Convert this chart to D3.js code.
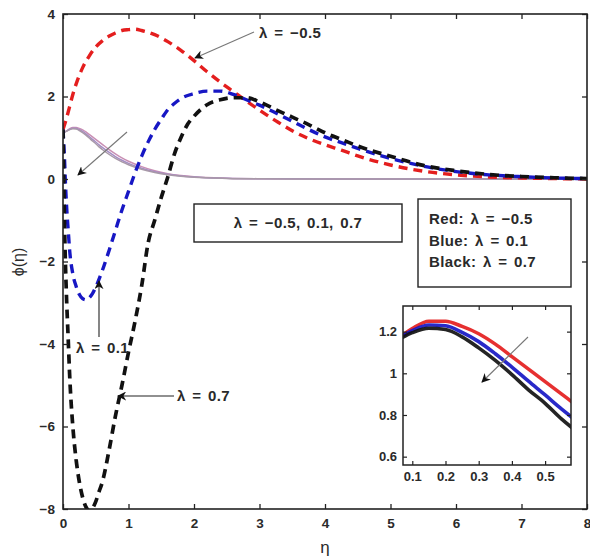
<!DOCTYPE html>
<html>
<head>
<meta charset="utf-8">
<script src="https://cdn.jsdelivr.net/npm/d3@7"></script>
<style>
  body { margin: 0; background: #fff; }
  svg { display: block; font-family: "Liberation Sans", Arial, sans-serif; }
</style>
</head>
<body>
<svg id="chart" width="590" height="560"></svg>
<script>
// Concentration profiles phi(eta) for three values of lambda.
// Dashed curves: first solution branch; solid curves: second branch.
const lambdaValues = [-0.5, 0.1, 0.7];
const seriesColors = ["#e41e1e", "#1717c4", "#111111"];
const solidColors = ["#c98fb4", "#a58cc4", "#a899a8"];

// Dashed branch
const etaRed = [0, 0.05, 0.1, 0.15, 0.2, 0.3, 0.4, 0.5, 0.6, 0.7, 0.8, 0.9, 1.0, 1.1, 1.2, 1.4, 1.6, 1.8, 2.0, 2.2, 2.4, 2.6, 2.8, 3.0, 3.25, 3.5, 3.75, 4.0, 4.25, 4.5, 5.0, 5.5, 6.0, 6.5, 7.0, 7.5, 8.0];
const phiRed = [1.2, 1.45, 1.75, 2.05, 2.3, 2.7, 2.98, 3.2, 3.35, 3.46, 3.54, 3.6, 3.62, 3.63, 3.6, 3.5, 3.33, 3.12, 2.87, 2.6, 2.35, 2.12, 1.89, 1.67, 1.41, 1.17, 0.98, 0.83, 0.7, 0.56, 0.34, 0.19, 0.1, 0.05, 0.025, 0.01, 0];

const etaBlue = [0, 0.02, 0.04, 0.06, 0.08, 0.1, 0.15, 0.2, 0.25, 0.3, 0.35, 0.4, 0.45, 0.5, 0.6, 0.7, 0.8, 0.9, 1.0, 1.1, 1.2, 1.3, 1.4, 1.5, 1.6, 1.7, 1.8, 2.0, 2.2, 2.4, 2.6, 2.8, 3.0, 3.25, 3.5, 3.75, 4.0, 4.25, 4.5, 5.0, 5.5, 6.0, 6.5, 7.0, 7.5, 8.0];
const phiBlue = [1.2, 0.6, -0.2, -0.8, -1.25, -1.7, -2.3, -2.6, -2.8, -2.9, -2.93, -2.88, -2.78, -2.62, -2.22, -1.75, -1.25, -0.75, -0.3, 0.15, 0.55, 0.9, 1.2, 1.45, 1.68, 1.83, 1.95, 2.07, 2.13, 2.13, 2.05, 1.92, 1.79, 1.6, 1.4, 1.2, 1.02, 0.88, 0.74, 0.5, 0.31, 0.18, 0.1, 0.055, 0.025, 0.01];

const etaBlack = [0, 0.01, 0.02, 0.03, 0.05, 0.08, 0.1, 0.15, 0.2, 0.25, 0.3, 0.35, 0.4, 0.45, 0.5, 0.55, 0.6, 0.7, 0.8, 0.9, 1.0, 1.1, 1.2, 1.3, 1.4, 1.5, 1.6, 1.7, 1.8, 1.9, 2.0, 2.2, 2.4, 2.6, 2.8, 3.0, 3.25, 3.5, 3.75, 4.0, 4.25, 4.5, 5.0, 5.5, 6.0, 6.5, 7.0, 7.5, 8.0];
const phiBlack = [1.2, 0.2, -0.8, -1.6, -2.7, -3.9, -4.7, -6.0, -6.8, -7.35, -7.72, -7.95, -8.03, -7.98, -7.82, -7.58, -7.35, -6.6, -5.75, -5.0, -4.2, -3.45, -2.6, -1.55, -1.0, -0.45, 0.05, 0.6, 1.0, 1.32, 1.52, 1.8, 1.92, 1.97, 1.97, 1.87, 1.68, 1.5, 1.32, 1.12, 0.96, 0.8, 0.55, 0.33, 0.2, 0.11, 0.06, 0.03, 0.01];

// Solid branch
const etaSolid = [0, 0.05, 0.1, 0.15, 0.2, 0.25, 0.3, 0.35, 0.4, 0.45, 0.5, 0.55, 0.6, 0.7, 0.8, 0.9, 1.0, 1.2, 1.4, 1.6, 1.8, 2.0, 2.5, 3.0, 4.0, 5.0, 6.0, 8.0];
const solidRed = [1.12, 1.16, 1.215, 1.25, 1.25, 1.225, 1.19, 1.14, 1.08, 1.02, 0.96, 0.9, 0.84, 0.72, 0.61, 0.51, 0.43, 0.3, 0.2, 0.13, 0.085, 0.055, 0.02, 0.008, 0.001, 0, 0, 0];
const solidBlue = [1.12, 1.16, 1.205, 1.232, 1.228, 1.196, 1.152, 1.094, 1.03, 0.962, 0.896, 0.828, 0.765, 0.65, 0.545, 0.455, 0.38, 0.26, 0.175, 0.115, 0.075, 0.048, 0.017, 0.006, 0.001, 0, 0, 0];
const solidBlack = [1.12, 1.155, 1.195, 1.216, 1.21, 1.175, 1.122, 1.062, 0.994, 0.921, 0.856, 0.78, 0.715, 0.6, 0.5, 0.415, 0.345, 0.235, 0.16, 0.105, 0.068, 0.043, 0.015, 0.005, 0.001, 0, 0, 0];

const xTicks = [0, 1, 2, 3, 4, 5, 6, 7, 8];
const yTicks = [-8, -6, -4, -2, 0, 2, 4];
const insetXTicks = [0.1, 0.2, 0.3, 0.4, 0.5];
const insetYTicks = [0.6, 0.8, 1, 1.2];

const dashed = [
  { eta: etaRed, phi: phiRed, color: seriesColors[0], width: 3.4 },
  { eta: etaBlue, phi: phiBlue, color: seriesColors[1], width: 3.4 },
  { eta: etaBlack, phi: phiBlack, color: seriesColors[2], width: 3.7 }
];
const solid = [
  { phi: solidRed, color: seriesColors[0], soft: solidColors[0] },
  { phi: solidBlue, color: seriesColors[1], soft: solidColors[1] },
  { phi: solidBlack, color: seriesColors[2], soft: solidColors[2] }
];

const svg = d3.select("#chart");
const textColor = "#2a2a2a";

// Arrowhead marker
svg.append("defs").append("marker")
  .attr("id", "head").attr("viewBox", "0 0 10 10")
  .attr("refX", 9).attr("refY", 5)
  .attr("markerWidth", 9).attr("markerHeight", 9)
  .attr("markerUnits", "userSpaceOnUse")
  .attr("orient", "auto")
  .append("path").attr("d", "M0,0 L10,5 L0,10 L3,5 Z").attr("fill", "#111");

// ---- Main axes ----
const M = { left: 63, right: 587, top: 14, bottom: 509 };
const x = d3.scaleLinear().domain([0, 8]).range([M.left, M.right]);
const y = d3.scaleLinear().domain([-8, 4]).range([M.bottom, M.top]);

svg.append("defs").append("clipPath").attr("id", "mainClip")
  .append("rect").attr("x", M.left).attr("y", M.top - 4)
  .attr("width", M.right - M.left).attr("height", M.bottom - M.top + 4);

const plot = svg.append("g").attr("clip-path", "url(#mainClip)");

// Solid branch in main panel
solid.forEach(s => {
  const line = d3.line().x((d, i) => x(etaSolid[i])).y(d => y(d)).curve(d3.curveMonotoneX);
  plot.append("path").datum(s.phi).attr("d", line)
    .attr("fill", "none").attr("stroke", s.soft).attr("stroke-width", 1.5);
});

// Dashed branch
dashed.forEach(s => {
  const line = d3.line().x((d, i) => x(s.eta[i])).y(d => y(d)).curve(d3.curveMonotoneX);
  plot.append("path").datum(s.phi).attr("d", line)
    .attr("fill", "none").attr("stroke", s.color)
    .attr("stroke-width", s.width).attr("stroke-dasharray", "9,6");
});

// Axis frame and ticks (ticks point inward on all four sides)
const axFont = 13.5;
const gx = svg.append("g").attr("transform", `translate(0,${M.bottom})`)
  .call(d3.axisBottom(x).tickValues(xTicks).tickSize(-5).tickPadding(9).tickFormat(d3.format("d")));
const gxTop = svg.append("g").attr("transform", `translate(0,${M.top})`)
  .call(d3.axisTop(x).tickValues(xTicks).tickSize(-5).tickFormat(""));
const gy = svg.append("g").attr("transform", `translate(${M.left},0)`)
  .call(d3.axisLeft(y).tickValues(yTicks).tickSize(-5).tickPadding(8).tickFormat(d3.format("d")));
const gyR = svg.append("g").attr("transform", `translate(${M.right},0)`)
  .call(d3.axisRight(y).tickValues(yTicks).tickSize(-5).tickFormat(""));
[gx, gxTop, gy, gyR].forEach(g => {
  g.select(".domain").remove();
  g.selectAll("line").attr("stroke", "#222").attr("stroke-width", 1.3);
  g.selectAll("text").attr("font-size", axFont).attr("font-weight", "bold").attr("fill", textColor)
    .attr("font-family", "Liberation Sans, Arial, sans-serif");
});
gy.selectAll("text").text(d => d < 0 ? "\u2212" + Math.abs(d) : d);
svg.append("rect").attr("x", M.left).attr("y", M.top)
  .attr("width", M.right - M.left).attr("height", M.bottom - M.top)
  .attr("fill", "none").attr("stroke", "#222").attr("stroke-width", 1.6);

// Axis titles
svg.append("text").attr("x", x(4)).attr("y", 553).attr("text-anchor", "middle")
  .attr("font-size", 17).attr("fill", textColor).text("\u03b7");
svg.append("text").attr("transform", "translate(24,262) rotate(-90)").attr("text-anchor", "middle")
  .attr("font-size", 16).attr("fill", textColor).text("\u03d5(\u03b7)");

// Annotations
const annFont = 15;
function label(tx, ty, str, anchor) {
  svg.append("text").attr("x", tx).attr("y", ty).attr("text-anchor", anchor || "start")
    .attr("font-size", annFont).attr("font-weight", "bold").attr("fill", textColor)
    .attr("word-spacing", 2).attr("letter-spacing", 0.4).text(str);
}
function arrow(x1, y1, x2, y2, col) {
  svg.append("line").attr("x1", x1).attr("y1", y1).attr("x2", x2).attr("y2", y2)
    .attr("stroke", col || "#777").attr("stroke-width", 1.1).attr("marker-end", "url(#head)");
}

label(259, 38, "\u03bb = \u22120.5");
arrow(254, 32, 195, 58);

arrow(127, 132, 78, 175);

label(76, 353, "\u03bb = 0.1");
arrow(99, 337, 99, 281, "#222");

label(177, 401, "\u03bb = 0.7");
arrow(174, 396, 118, 396, "#222");

// Boxed captions
svg.append("rect").attr("x", 194).attr("y", 204).attr("width", 208).attr("height", 38)
  .attr("fill", "#fff").attr("stroke", "#222").attr("stroke-width", 1.4);
label(298, 228, "\u03bb = \u22120.5, 0.1, 0.7", "middle");

svg.append("rect").attr("x", 418).attr("y", 199).attr("width", 153).attr("height", 88)
  .attr("fill", "#fff").attr("stroke", "#222").attr("stroke-width", 1.4);
["Red: \u03bb = \u22120.5", "Blue: \u03bb = 0.1", "Black: \u03bb = 0.7"].forEach((t, i) => {
  label(429, 224 + i * 21.7, t);
});

// ---- Inset: enlarged view of the solid branch near the wall ----
const I = { left: 403, right: 571, top: 306, bottom: 465 };
const xi = d3.scaleLinear().domain([0.072, 0.578]).range([I.left, I.right]);
const yi = d3.scaleLinear().domain([0.56, 1.323]).range([I.bottom, I.top]);

svg.append("rect").attr("x", I.left).attr("y", I.top)
  .attr("width", I.right - I.left).attr("height", I.bottom - I.top).attr("fill", "#fff");
svg.append("defs").append("clipPath").attr("id", "insetClip")
  .append("rect").attr("x", I.left).attr("y", I.top)
  .attr("width", I.right - I.left).attr("height", I.bottom - I.top);
const inset = svg.append("g").attr("clip-path", "url(#insetClip)");
solid.forEach(s => {
  const line = d3.line().x((d, i) => xi(etaSolid[i])).y(d => yi(d)).curve(d3.curveMonotoneX);
  inset.append("path").datum(s.phi).attr("d", line)
    .attr("fill", "none").attr("stroke", s.color).attr("stroke-width", 3.6)
    .attr("stroke-opacity", 0.92);
});

const ix = svg.append("g").attr("transform", `translate(0,${I.bottom})`)
  .call(d3.axisBottom(xi).tickValues(insetXTicks).tickSize(-4).tickPadding(7).tickFormat(d3.format(".1f")));
const ixTop = svg.append("g").attr("transform", `translate(0,${I.top})`)
  .call(d3.axisTop(xi).tickValues(insetXTicks).tickSize(-4).tickFormat(""));
const iy = svg.append("g").attr("transform", `translate(${I.left},0)`)
  .call(d3.axisLeft(yi).tickValues(insetYTicks).tickSize(-4).tickPadding(6).tickFormat(d => d3.format("~g")(d)));
const iyR = svg.append("g").attr("transform", `translate(${I.right},0)`)
  .call(d3.axisRight(yi).tickValues(insetYTicks).tickSize(-4).tickFormat(""));
[ix, ixTop, iy, iyR].forEach(g => {
  g.select(".domain").remove();
  g.selectAll("line").attr("stroke", "#222").attr("stroke-width", 1.2);
  g.selectAll("text").attr("font-size", 13).attr("font-weight", "bold").attr("fill", textColor)
    .attr("font-family", "Liberation Sans, Arial, sans-serif");
});
svg.append("rect").attr("x", I.left).attr("y", I.top)
  .attr("width", I.right - I.left).attr("height", I.bottom - I.top)
  .attr("fill", "none").attr("stroke", "#222").attr("stroke-width", 1.5);

arrow(528, 337, 482, 382);
</script>
</body>
</html>
